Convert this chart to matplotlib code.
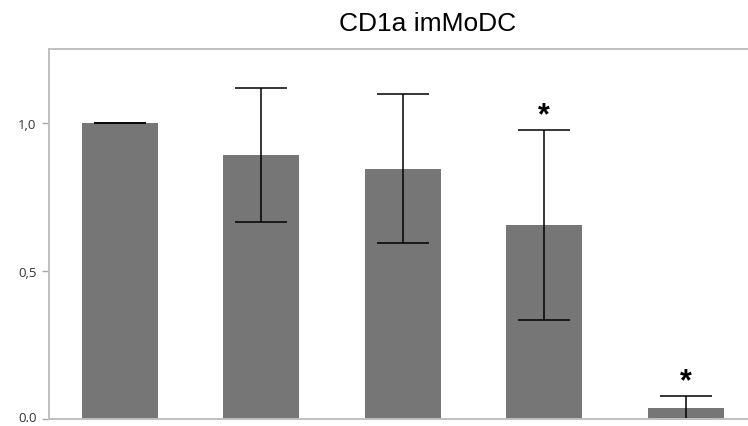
import matplotlib.pyplot as plt
from matplotlib.transforms import ScaledTranslation

# relative CD1a expression, normalised to the first condition
groups = ["c1", "c2", "c3", "c4", "c5"]
means = [1.0, 0.892, 0.845, 0.655, 0.037]
errors = [0.0, 0.225, 0.252, 0.321, 0.041]
stars = ["", "", "", "*", "*"]
tick_vals = [0.0, 0.5, 1.0]
tick_text = ["0.0", "0,5", "1,0"]

fig = plt.figure(figsize=(7.48, 4.27), dpi=100)
ax = fig.add_axes([49 / 748, 7 / 427, 1 - 49 / 748, 370 / 427])

x = list(range(len(groups)))
ax.bar(x, means, width=0.54, color="#767676", zorder=2)
# symmetric errors; anything below zero is clipped / hidden under the spine
ax.errorbar(x, means, yerr=errors, fmt="none", ecolor="black",
            elinewidth=1.1, capsize=18.5, capthick=1.1, zorder=2.4)

for xi, m, e, s in zip(x, means, errors, stars):
    if s:
        ax.text(xi, m + e, s, ha="center", va="bottom",
                fontsize=22, fontweight="bold", family="Liberation Sans")

ax.set_xlim(-0.5, 4.44)
ax.set_ylim(0, 1.25)
ax.set_xticks([])
ax.set_yticks(tick_vals)
ax.set_yticklabels(tick_text, fontsize=9.5, color="#333333", family="Open Sans")
ax.tick_params(axis="y", length=5, width=1, color="#aaaaaa", pad=4)

# lift the bottom label a little so it stays inside the figure
lbl = ax.get_yticklabels()[0]
lbl.set_transform(lbl.get_transform() + ScaledTranslation(0, 2 / 72, fig.dpi_scale_trans))

for side in ["left", "bottom", "top"]:
    ax.spines[side].set_color("#c0c0c0")
    ax.spines[side].set_linewidth(1.4)
ax.spines["right"].set_visible(False)

fig.text(428 / 748, 1 - 24 / 427, "CD1a imMoDC", ha="center", va="center",
         fontsize=19, family="Liberation Sans")

fig.savefig("out.png", dpi=100)
